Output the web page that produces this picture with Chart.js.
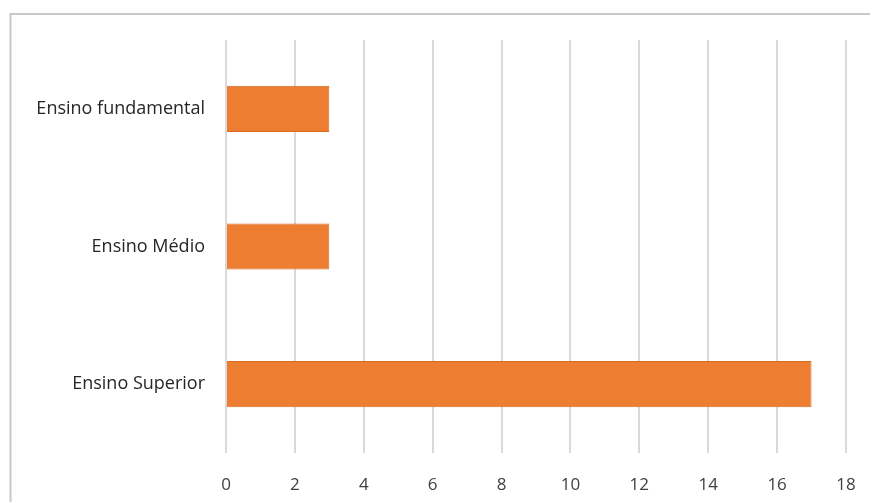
<!DOCTYPE html>
<html lang="pt">
<head>
  <meta charset="UTF-8">
  <title>Escolaridade</title>
  <script src="https://cdn.jsdelivr.net/npm/chart.js"></script>
  <style>
    html, body {
      margin: 0;
      padding: 0;
      background: #ffffff;
      overflow: hidden;
    }
  </style>
</head>
<body>
  <canvas id="chart" width="870" height="502"></canvas>

<script>
  // dados
  const categorias = ['Ensino fundamental', 'Ensino Médio', 'Ensino Superior'];
  const valores = [3, 3, 17];
  const eixoMin = 0;
  const eixoMax = 18;
  const passo = 2;

  const familia = "'Open Sans', 'Liberation Sans', sans-serif";

  // moldura cinza do gráfico (só topo e esquerda aparecem)
  const moldura = {
    id: 'moldura',
    beforeDraw(chart) {
      const ctx = chart.ctx;
      ctx.save();
      ctx.strokeStyle = '#c8c8c8';
      ctx.lineWidth = 2;
      ctx.beginPath();
      ctx.moveTo(10.5, chart.height);
      ctx.lineTo(10.5, 14);
      ctx.lineTo(chart.width, 14);
      ctx.stroke();
      ctx.restore();
    }
  };

  new Chart(document.getElementById('chart'), {
    type: 'bar',
    data: {
      labels: categorias,
      datasets: [{
        data: valores,
        backgroundColor: '#ed7d31',
        borderColor: '#d86a22',
        borderWidth: 1,
        categoryPercentage: 1,
        barPercentage: 0.335
      }]
    },
    options: {
      indexAxis: 'y',
      responsive: false,
      animation: false,
      layout: { padding: { top: 40, right: 24, left: 0, bottom: 0 } },
      plugins: {
        legend: { display: false },
        tooltip: { enabled: false }
      },
      scales: {
        x: {
          min: eixoMin,
          max: eixoMax,
          ticks: { stepSize: passo, color: '#404040', font: { family: familia, size: 17 }, padding: 22 },
          grid: { color: '#d9d9d9', lineWidth: 2, drawTicks: false },
          border: { display: false },
          afterFit: s => { s.height = 49; s.paddingRight = 0; s.paddingLeft = 0; }
        },
        y: {
          ticks: { color: '#262626', font: { family: familia, size: 18 }, padding: 21 },
          grid: { display: false, drawTicks: false },
          border: { display: false },
          afterFit: s => { s.width = 226; s.paddingTop = 0; s.paddingBottom = 0; }
        }
      }
    },
    plugins: [moldura]
  });
</script>
</body>
</html>
